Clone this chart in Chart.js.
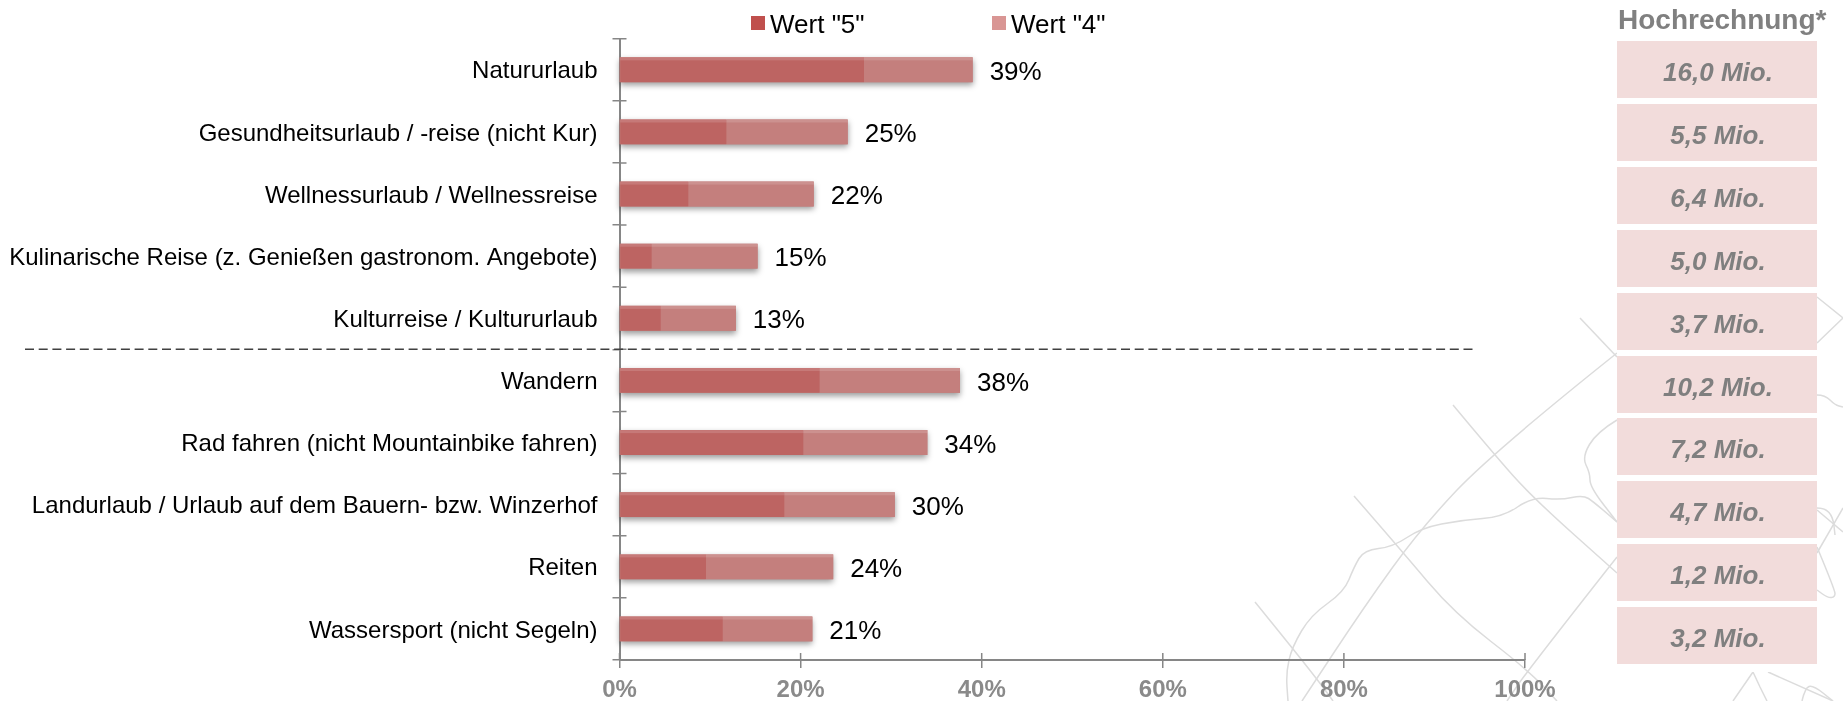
<!DOCTYPE html>
<html lang="de">
<head>
<meta charset="utf-8">
<title>Urlaubsformen</title>
<script src="https://cdn.jsdelivr.net/npm/chart.js@4/dist/chart.umd.min.js"></script>
<style>
  html, body { margin: 0; padding: 0; background: #fff; }
  body { position: relative; width: 1843px; height: 701px; overflow: hidden; font-family: "Liberation Sans", Arial, sans-serif; }
  #map { position: absolute; left: 0; top: 0; }
  #map path { fill: none; stroke: #dcdcdc; stroke-width: 1.5; stroke-linejoin: round; }
  #chart { position: absolute; left: 0; top: 0; }
  #legend { position: absolute; top: 0; left: 0; }
  .leg-box { position: absolute; top: 16px; width: 14px; height: 14px; }
  .leg-text { position: absolute; top: 9px; font-size: 26px; line-height: 30px; color: #000; white-space: nowrap; }
  #side { position: absolute; left: 1617px; top: 41px; width: 200px; height: 631px; background: #fff; }
  #side-title { position: absolute; left: 1618px; top: 4px; font-size: 28px; line-height: 32px; font-weight: bold; color: #808080; white-space: nowrap; }
  .side-box { position: absolute; left: 0; width: 200px; height: 57px; line-height: 63px; padding-left: 2px; box-sizing: border-box; background: #f2dcdb; color: #7f7f7f; font-size: 26px; font-weight: bold; font-style: italic; text-align: center; }
</style>
</head>
<body>
<!-- faint map in the background -->
<svg id="map" width="1843" height="701">
  <path class="curve" d="M1617 353 L1493 452 L1421 528 L1364 607 L1302 701"/>
  <path d="M1580 318 L1617 357"/>
  <path class="curve" d="M1453 405 L1493 453 L1532 497 L1617 573"/>
  <path class="curve" d="M1617 522 L1594 502 L1583 495 L1561 500 L1532 497 L1503 517 L1462 520 L1421 528 L1393 547 L1364 550 L1354 567 L1344 592 L1311 615 L1292 647 L1286 673 L1288 701"/>
  <path class="curve" d="M1354 496 L1401 550 L1454 613 L1528 670 L1557 701"/>
  <path class="curve" d="M1255 602 L1294 650 L1323 687 L1333 701"/>
  <path class="curve" d="M1617 557 L1528 670 L1507 701"/>
  <path class="curve" d="M1617 420 L1597 432 L1582 457 L1590 473 L1590 487 L1617 522"/>
  <path d="M1817 297 L1843 318 L1817 343"/>
  <path class="curve" d="M1817 395 L1825 395 L1835 405 L1843 407"/>
  <path d="M1817 510 L1843 532"/>
  <path d="M1843 508 L1817 553"/>
  <path class="curve" d="M1817 508 L1825 508 L1833 517 L1835 535"/>
  <path class="curve" d="M1817 547 L1835 590 L1835 597 L1828 598 L1817 590"/>
  <path d="M1733 701 L1753 672 L1760 687 L1767 701"/>
  <path d="M1768 672 L1833 701"/>
  <path class="curve" d="M1802 701 L1805 688 L1813 685 L1833 701"/>
</svg>
<canvas id="chart" width="1843" height="701"></canvas>
<div id="legend"></div>
<div id="side-title">Hochrechnung*</div>
<div id="side"></div>

<script>
const categories = [
  "Natururlaub",
  "Gesundheitsurlaub / -reise (nicht Kur)",
  "Wellnessurlaub / Wellnessreise",
  "Kulinarische Reise (z. Genießen gastronom. Angebote)",
  "Kulturreise / Kultururlaub",
  "Wandern",
  "Rad fahren (nicht Mountainbike fahren)",
  "Landurlaub / Urlaub auf dem Bauern- bzw. Winzerhof",
  "Reiten",
  "Wassersport (nicht Segeln)"
];
const wert5 = [27.0, 11.8, 7.6, 3.55, 4.55, 22.1, 20.3, 18.2, 9.55, 11.4];
const wert4 = [12.0, 13.4, 13.85, 11.7, 8.3, 15.5, 13.7, 12.2, 14.05, 9.9];
const totalLabels = ["39%", "25%", "22%", "15%", "13%", "38%", "34%", "30%", "24%", "21%"];
const hochrechnung = ["16,0 Mio.", "5,5 Mio.", "6,4 Mio.", "5,0 Mio.", "3,7 Mio.", "10,2 Mio.", "7,2 Mio.", "4,7 Mio.", "1,2 Mio.", "3,2 Mio."];
const xTicks = [0, 20, 40, 60, 80, 100];

const AXIS_COLOR = "#868686";

// round off the hand-traced map lines
document.querySelectorAll("#map path.curve").forEach((path) => {
  const pts = path.getAttribute("d").replace(/[ML]/g, "").trim().split(/\s+/).map(Number);
  let d = `M${pts[0]} ${pts[1]}`;
  for (let i = 2; i < pts.length - 2; i += 2) {
    d += ` Q${pts[i]} ${pts[i + 1]} ${(pts[i] + pts[i + 2]) / 2} ${(pts[i + 1] + pts[i + 3]) / 2}`;
  }
  d += ` L${pts[pts.length - 2]} ${pts[pts.length - 1]}`;
  path.setAttribute("d", d);
});

// soft shadow under each whole bar, drawn before the segments
const barShadow = {
  id: "barShadow",
  beforeDatasetsDraw(chart) {
    const c = chart.ctx;
    const left = chart.scales.x.left;
    c.save();
    c.shadowColor = "rgba(0,0,0,0.4)";
    c.shadowBlur = 6;
    c.shadowOffsetY = 3;
    c.fillStyle = "#c47f7d";
    chart.getDatasetMeta(1).data.forEach((bar) => {
      const p = bar.getProps(["x", "y", "height"], true);
      c.fillRect(left, p.y - p.height / 2, p.x - left, p.height);
    });
    c.restore();
  }
};

// lighter top edge, value labels, separator, inner half of the ticks
const extras = {
  id: "extras",
  afterDatasetsDraw(chart) {
    const c = chart.ctx;
    const x = chart.scales.x;
    const y = chart.scales.y;
    c.save();

    chart.data.datasets.forEach((ds, i) => {
      chart.getDatasetMeta(i).data.forEach((bar) => {
        const p = bar.getProps(["x", "y", "base", "height"], true);
        c.fillStyle = "rgba(255,255,255,0.14)";
        c.fillRect(p.base, p.y - p.height / 2, p.x - p.base, 3);
      });
    });

    c.fillStyle = "#000";
    c.font = '26px "Liberation Sans"';
    c.textAlign = "left";
    c.textBaseline = "middle";
    totalLabels.forEach((label, i) => {
      c.fillText(label, x.getPixelForValue(wert5[i] + wert4[i]) + 17, y.getPixelForValue(i) + 3);
    });

    c.strokeStyle = AXIS_COLOR;
    c.lineWidth = 1.5;
    c.beginPath();
    for (let i = 0; i <= categories.length; i++) {
      const py = y.getPixelForValue(i - 0.5);
      c.moveTo(x.left, py);
      c.lineTo(x.left + 7, py);
    }
    xTicks.forEach((v) => {
      const px = x.getPixelForValue(v);
      c.moveTo(px, y.bottom);
      c.lineTo(px, y.bottom - 7);
    });
    c.stroke();

    // dashed line between the two groups
    c.strokeStyle = "#404040";
    c.setLineDash([9, 4.7]);
    c.beginPath();
    c.moveTo(25, y.getPixelForValue(4.5));
    c.lineTo(x.getPixelForValue(94.5), y.getPixelForValue(4.5));
    c.stroke();
    c.restore();
  }
};

const chart = new Chart(document.getElementById("chart"), {
  type: "bar",
  data: {
    labels: categories,
    datasets: [
      { label: 'Wert "5"', data: wert5, backgroundColor: "#bd6462", legendColor: "#c0504d", stack: "a" },
      { label: 'Wert "4"', data: wert4, backgroundColor: "#c47f7d", legendColor: "#d99694", stack: "a" }
    ]
  },
  options: {
    indexAxis: "y",
    responsive: false,
    animation: false,
    devicePixelRatio: 1,
    layout: { padding: { top: 38.7, right: 318, left: 0, bottom: 0 } },
    datasets: { bar: { barPercentage: 0.4, categoryPercentage: 1 } },
    plugins: { legend: { display: false }, tooltip: { enabled: false } },
    scales: {
      x: {
        stacked: true,
        min: 0,
        max: 100,
        ticks: {
          stepSize: 20,
          padding: 8,
          color: "#8a8a8a",
          font: { family: "Liberation Sans", size: 24, weight: "bold" },
          callback: (v) => v + "%",
          maxRotation: 0
        },
        border: { color: AXIS_COLOR, width: 2 },
        grid: { drawOnChartArea: false, color: AXIS_COLOR, lineWidth: 1.5, tickLength: 8 },
        afterFit(scale) { scale.height = 41; }
      },
      y: {
        stacked: true,
        ticks: {
          autoSkip: false,
          padding: 15,
          labelOffset: 2,
          color: "#000",
          font: { family: "Liberation Sans", size: 24 }
        },
        border: { color: AXIS_COLOR, width: 2 },
        grid: { offset: true, drawOnChartArea: false, color: AXIS_COLOR, lineWidth: 1.5, tickLength: 7 },
        afterFit(scale) { scale.width = 619.5; }
      }
    }
  },
  plugins: [barShadow, extras]
});

// legend
const legendEl = document.getElementById("legend");
const legendX = [751, 992];
chart.data.datasets.forEach((ds, i) => {
  const box = document.createElement("div");
  box.className = "leg-box";
  box.style.left = legendX[i] + "px";
  box.style.background = ds.legendColor;
  const text = document.createElement("div");
  text.className = "leg-text";
  text.style.left = legendX[i] + 19 + "px";
  text.textContent = ds.label;
  legendEl.append(box, text);
});

// Hochrechnung column
const side = document.getElementById("side");
hochrechnung.forEach((value, i) => {
  const box = document.createElement("div");
  box.className = "side-box";
  box.style.top = i * 62.9 + "px";
  box.textContent = value;
  side.appendChild(box);
});
</script>
</body>
</html>
